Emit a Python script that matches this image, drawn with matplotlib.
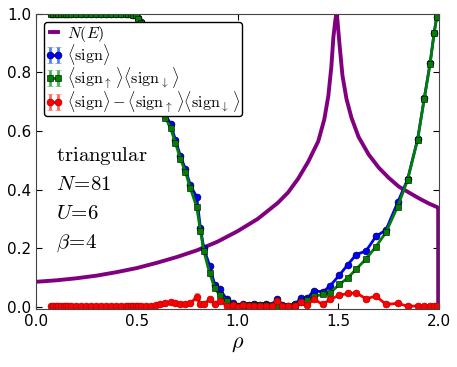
import matplotlib
matplotlib.use("Agg")
import matplotlib.pyplot as plt

# density rho = n / N for the simulated fillings
rho = [0.074, 0.086, 0.099, 0.111, 0.123, 0.136, 0.148, 0.160, 0.173, 0.198,
       0.222, 0.247, 0.272, 0.296, 0.321, 0.346, 0.370, 0.395, 0.420, 0.444,
       0.457, 0.469, 0.481, 0.494, 0.506, 0.519, 0.543, 0.568, 0.593, 0.617,
       0.642, 0.667, 0.691, 0.716, 0.741, 0.765, 0.797, 0.815, 0.832, 0.861,
       0.886, 0.911, 0.946, 0.975, 1.000, 1.025, 1.054, 1.080, 1.111, 1.140,
       1.170, 1.196, 1.222, 1.250, 1.287, 1.312, 1.345, 1.378, 1.423, 1.460,
       1.505, 1.546, 1.588, 1.637, 1.686, 1.736, 1.794, 1.843, 1.893, 1.926,
       1.955, 1.975, 1.988]

# <sign>
sign = [1.0, 1.0, 1.0, 1.0, 1.0, 1.0, 1.0, 1.0, 1.0, 1.0,
        1.0, 1.0, 1.0, 1.0, 1.0, 1.0, 1.0, 1.0, 1.0, 1.0,
        1.0, 1.0, 0.998, 0.995, 0.985, 0.972, 0.935, 0.865, 0.79, 0.71,
        0.655, 0.625, 0.57, 0.515, 0.47, 0.415, 0.375, 0.27, 0.20, 0.14,
        0.075, 0.06, 0.025, 0.012, 0.004, 0.008, 0.006, 0.008, 0.007, 0.008,
        0.006, 0.027, 0.006, 0.004, 0.008, 0.03, 0.028, 0.055, 0.05, 0.072,
        0.108, 0.143, 0.178, 0.19, 0.24, 0.262, 0.356, 0.435, 0.572, 0.712,
        0.832, 0.936, 0.99]
sign_err = [0.002] * 60 + [0.004, 0.004, 0.005, 0.006, 0.01, 0.006, 0.006,
                           0.005, 0.004, 0.003, 0.003, 0.002, 0.002]

# <sign_up><sign_dn>
sign_ud = [1.0, 1.0, 1.0, 1.0, 1.0, 1.0, 1.0, 1.0, 1.0, 1.0,
           1.0, 1.0, 1.0, 1.0, 1.0, 1.0, 1.0, 1.0, 1.0, 1.0,
           1.0, 1.0, 0.998, 0.995, 0.983, 0.97, 0.93, 0.86, 0.78, 0.70,
           0.645, 0.61, 0.56, 0.505, 0.46, 0.405, 0.34, 0.26, 0.19, 0.115,
           0.064, 0.04, 0.02, 0.007, 0.004, 0.004, 0.006, 0.006, 0.005, 0.006,
           0.004, 0.004, 0.003, 0.003, 0.006, 0.015, 0.023, 0.035, 0.042, 0.048,
           0.076, 0.098, 0.128, 0.163, 0.205, 0.254, 0.342, 0.432, 0.57, 0.71,
           0.83, 0.935, 0.99]
sign_ud_err = [0.002] * 73

# <sign> - <sign_up><sign_dn>
diff = [0.002, 0.001, 0.002, 0.001, 0.002, 0.001, 0.002, 0.001, 0.002, 0.001,
        0.002, 0.001, 0.002, 0.001, 0.002, 0.001, 0.002, 0.001, 0.002, 0.001,
        0.002, 0.001, 0.002, 0.001, 0.002, 0.001, 0.001, 0.003, 0.005, 0.009,
        0.011, 0.017, 0.014, 0.01, 0.01, 0.011, 0.033, 0.01, 0.008, 0.025,
        0.008, 0.02, 0.003, 0.005, 0.0, 0.005, 0.001, 0.002, 0.002, 0.002,
        0.002, 0.019, 0.003, 0.001, 0.002, 0.016, 0.005, 0.025, 0.008, 0.025,
        0.039, 0.045, 0.047, 0.027, 0.036, 0.008, 0.011, 0.002, 0.002, 0.002,
        0.002, 0.001, 0.002]
diff_err = [0.002] * 36 + [0.012] + [0.003] * 23 + [0.004, 0.004, 0.004, 0.006,
                                                    0.008, 0.004, 0.004, 0.002,
                                                    0.002, 0.002, 0.002, 0.002, 0.002]

# density of states N(E), plotted against filling, normalised to its peak
dos_rho = [0.0, 0.1, 0.2, 0.3, 0.4, 0.5, 0.6, 0.7, 0.8, 0.9, 1.0, 1.1, 1.2,
           1.25, 1.3, 1.35, 1.40, 1.43, 1.45, 1.465, 1.475, 1.485, 1.49,
           1.495, 1.505, 1.52, 1.54, 1.565, 1.6, 1.65, 1.7, 1.75, 1.8, 1.85,
           1.9, 1.95, 1.99, 1.995, 1.995]
dos = [0.085, 0.09, 0.097, 0.106, 0.118, 0.132, 0.15, 0.17, 0.193, 0.222,
       0.258, 0.30, 0.355, 0.39, 0.437, 0.495, 0.565, 0.64, 0.72, 0.82, 0.92,
       0.98, 1.0, 0.98, 0.90, 0.79, 0.71, 0.645, 0.58, 0.52, 0.475, 0.44,
       0.41, 0.39, 0.37, 0.352, 0.34, 0.337, 0.0]

plt.rcParams["mathtext.fontset"] = "cm"
plt.rcParams["font.family"] = "DejaVu Sans"
plt.rcParams["xtick.direction"] = "in"
plt.rcParams["ytick.direction"] = "in"
plt.rcParams["xtick.top"] = True
plt.rcParams["ytick.right"] = True

fig = plt.figure(figsize=(4.57, 3.67), dpi=100)
ax = fig.add_axes([0.079, 0.158, 0.882, 0.804])

ax.plot(dos_rho, dos, color="purple", lw=2.8, label=r"$N(E)$")
ax.errorbar(rho, sign, yerr=sign_err, color="b", ecolor=(0.3, 0.5, 1.0),
            marker="o", ms=5, mec="k", mew=0.4, lw=2, capsize=2,
            label=r"$\langle\mathrm{sign}\rangle$")
ax.errorbar(rho, sign_ud, yerr=sign_ud_err, color="g", ecolor=(0.3, 0.7, 0.3),
            marker="s", ms=5, mec="k", mew=0.4, lw=2, capsize=2,
            label=r"$\langle\mathrm{sign}_{\uparrow}\,\rangle\langle\mathrm{sign}_{\downarrow}\,\rangle$")
ax.errorbar(rho, diff, yerr=diff_err, color="r", ecolor=(1.0, 0.4, 0.4),
            marker="o", ms=5, mec=(0.6, 0, 0), mew=0.4, lw=2, capsize=2,
            label=r"$\langle\mathrm{sign}\rangle-\langle\mathrm{sign}_{\uparrow}\,\rangle\langle\mathrm{sign}_{\downarrow}\,\rangle$")

ax.set_xlim(0, 2.0)
ax.set_ylim(-0.008, 1.0)
ax.set_xticks([0.0, 0.5, 1.0, 1.5, 2.0])
ax.set_yticks([0.0, 0.2, 0.4, 0.6, 0.8, 1.0])
ax.tick_params(labelsize=11, length=4, width=0.8)
for s in ax.spines.values():
    s.set_color("#444444")
ax.set_xlabel(r"$\rho$", fontsize=16)

info = [r"$\mathrm{triangular}$", r"$N\!=\!81$", r"$U\!=\!6$", r"$\beta\!=\!4$"]
for i, t in enumerate(info):
    ax.text(0.05, 0.50 - i * 0.097, t, fontsize=15, transform=ax.transAxes)

leg = ax.legend(loc="upper left", numpoints=2, fontsize=11.5, fancybox=True,
                handlelength=1.05, borderpad=0.1, labelspacing=-0.1,
                handletextpad=0.3, framealpha=1.0)
leg.get_frame().set_edgecolor("k")

plt.savefig("out.png", dpi=100)
